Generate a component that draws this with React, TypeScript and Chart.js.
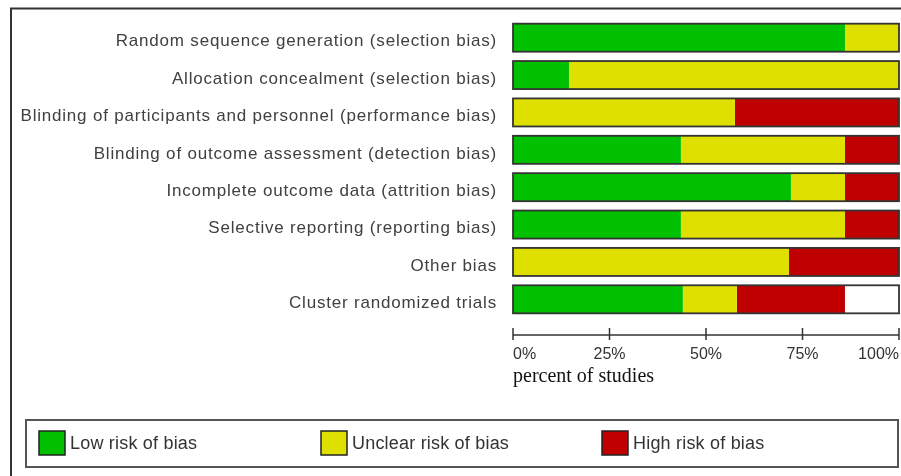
import React, { useEffect, useRef } from "react";
import { Chart, registerables } from "chart.js";

Chart.register(...registerables);

const categories = [
  "Random sequence generation (selection bias)",
  "Allocation concealment (selection bias)",
  "Blinding of participants and personnel (performance bias)",
  "Blinding of outcome assessment (detection bias)",
  "Incomplete outcome data (attrition bias)",
  "Selective reporting (reporting bias)",
  "Other bias",
  "Cluster randomized trials",
];

const lowRisk = [86, 14.5, 0, 43.5, 72, 43.5, 0, 44];
const unclearRisk = [14, 85.5, 57.5, 42.5, 14, 42.5, 71.5, 14];
const highRisk = [0, 0, 42.5, 14, 14, 14, 28.5, 28];

const seriesLabels = ["Low risk of bias", "Unclear risk of bias", "High risk of bias"];
const seriesColors = ["#00c000", "#e0e000", "#c00000"];

const xTicks = [0, 25, 50, 75, 100];
const xTitle = "percent of studies";

const withSpacing = (s: any, spacing: string, dy: number) => {
  if (s.__patched) return;
  s.__patched = true;
  const orig = s.drawLabels;
  s.drawLabels = function (area: any) {
    const ctx = this.ctx;
    ctx.save();
    ctx.letterSpacing = spacing;
    ctx.translate(0, dy);
    orig.call(this, area);
    ctx.restore();
  };
};

const framePlugin = {
  id: "framePlugin",
  beforeDraw(chart: any) {
    const ctx = chart.ctx;
    ctx.save();
    ctx.fillStyle = "#ffffff";
    ctx.fillRect(0, 0, chart.width, chart.height);
    ctx.restore();
  },
  afterDraw(chart: any) {
    const ctx = chart.ctx;
    const x = chart.scales.x;
    const area = chart.chartArea;
    ctx.save();
    // outer frame
    ctx.strokeStyle = "#333333";
    ctx.lineWidth = 2;
    ctx.beginPath();
    ctx.moveTo(11, chart.height);
    ctx.lineTo(11, 8.5);
    ctx.lineTo(chart.width, 8.5);
    ctx.stroke();

    // axis line with ticks
    const ay = area.bottom + 17;
    ctx.strokeStyle = "#333333";
    ctx.lineWidth = 1.5;
    ctx.beginPath();
    ctx.moveTo(x.getPixelForValue(0), ay);
    ctx.lineTo(x.getPixelForValue(100), ay);
    xTicks.forEach((t) => {
      const px = Math.min(x.getPixelForValue(t), chart.width - 1.5);
      ctx.moveTo(px, ay - 7);
      ctx.lineTo(px, ay + 5);
    });
    ctx.stroke();

    // legend box
    ctx.strokeStyle = "#555555";
    ctx.lineWidth = 2;
    ctx.strokeRect(26, 420, 872, 47);
    const lx = [39, 321, 602];
    ctx.font = "18px 'Liberation Sans', Arial, sans-serif";
    (ctx as any).letterSpacing = "0.2px";
    ctx.textBaseline = "middle";
    ctx.textAlign = "left";
    chart.data.datasets.forEach((ds: any, i: number) => {
      ctx.fillStyle = ds.backgroundColor;
      ctx.fillRect(lx[i], 431, 26, 24);
      ctx.strokeStyle = "#222222";
      ctx.lineWidth = 1.5;
      ctx.strokeRect(lx[i], 431, 26, 24);
      ctx.fillStyle = "#333333";
      ctx.fillText(ds.label, lx[i] + 31, 444);
    });
    (ctx as any).letterSpacing = "0px";
    ctx.restore();
  },
  afterDatasetsDraw(chart: any) {
    const ctx = chart.ctx;
    const x = chart.scales.x;
    const meta = chart.getDatasetMeta(0);
    ctx.save();
    ctx.strokeStyle = "#333333";
    ctx.lineWidth = 1.8;
    meta.data.forEach((el: any) => {
      const x0 = x.getPixelForValue(0);
      const x1 = x.getPixelForValue(100);
      ctx.strokeRect(x0, el.y - el.height / 2, x1 - x0, el.height);
    });
    ctx.restore();
  },
};

export default function App() {
  const ref = useRef<HTMLCanvasElement | null>(null);
  useEffect(() => {
    if (!ref.current) return;
    const chart = new Chart(ref.current, {
      type: "bar",
      data: {
        labels: categories,
        datasets: [lowRisk, unclearRisk, highRisk].map((d, i) => ({
          label: seriesLabels[i],
          data: d,
          backgroundColor: seriesColors[i],
          borderWidth: 0,
          barPercentage: 0.75,
          categoryPercentage: 1,
        })),
      },
      options: {
        indexAxis: "y",
        responsive: false,
        animation: false,
        devicePixelRatio: 1,
        layout: { padding: { top: 19, right: 2, bottom: 0, left: 0 } },
        plugins: { legend: { display: false }, tooltip: { enabled: false } },
        scales: {
          x: {
            stacked: true,
            min: 0,
            max: 100,
            grid: { display: false, drawTicks: false },
            border: { display: false },
            afterBuildTicks: (s: any) => {
              s.ticks = xTicks.map((v) => ({ value: v }));
            },
            afterFit: (s: any) => {
              s.height = 158;
              s.paddingLeft = 0;
              s.paddingRight = 0;
              s.paddingTop = 0;
              s.paddingBottom = 0;
            },
            ticks: {
              align: "inner",
              padding: 27,
              maxRotation: 0,
              autoSkip: false,
              color: "#333333",
              font: { family: "'Liberation Sans', Arial, sans-serif", size: 16 },
              callback: (v: any) => v + "%",
            },
            title: {
              display: true,
              text: xTitle,
              align: "start",
              color: "#111111",
              font: { family: "'Liberation Serif', 'Times New Roman', serif", size: 20 },
              padding: { top: 0, bottom: 87 },
            },
          },
          y: {
            stacked: true,
            grid: { display: false, drawTicks: false },
            border: { display: false },
            afterFit: (s: any) => {
              s.width = 513;
              s.paddingTop = 0;
              s.paddingBottom = 0;
              s.paddingLeft = 0;
              s.paddingRight = 0;
              withSpacing(s, "0.8px", 4);
            },
            ticks: {
              padding: 16,
              color: "#404040",
              font: { family: "'Liberation Sans', Arial, sans-serif", size: 17 },
            },
          },
        },
      },
      plugins: [framePlugin],
    } as any);
    return () => chart.destroy();
  }, []);
  return (
    <div style={{ position: "fixed", left: 0, top: 0, width: 901, height: 476 }}>
      <canvas ref={ref} width={901} height={476} />
    </div>
  );
}
